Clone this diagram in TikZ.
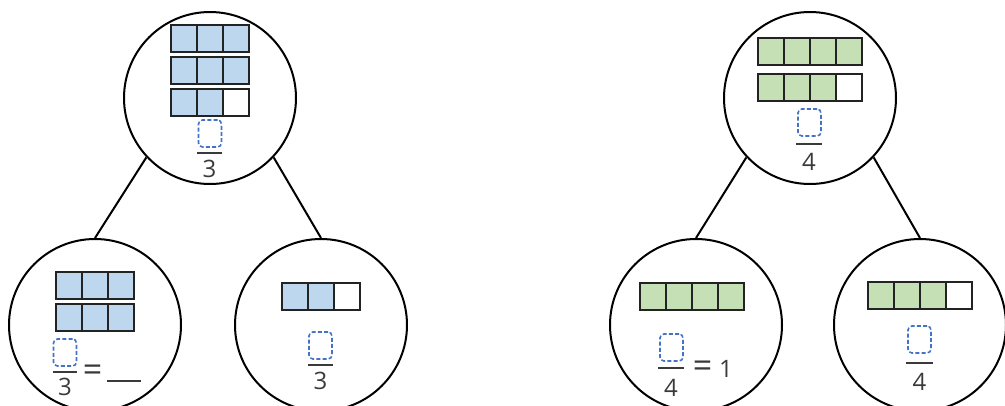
\documentclass[tikz,border=0pt]{standalone}
\usepackage{fontspec}
\setmainfont{Open Sans}
\definecolor{cellblue}{HTML}{BDD7EE}
\definecolor{cellgreen}{HTML}{C5E0B4}
\definecolor{dashblue}{HTML}{4472C4}
\definecolor{ink}{HTML}{3A3A3A}
\tikzset{
  bubble/.style={circle, draw=black, line width=2pt, minimum size=172pt, inner sep=0pt},
  link/.style={draw=black, line width=2pt},
  cell/.style={draw=ink!60!black, line width=2pt},
  answerbox/.style={draw=dashblue, dash pattern=on 4pt off 2.2pt, line width=1.6pt, rounded corners=4pt, minimum width=23pt, minimum height=27pt, inner sep=0pt},
  fracline/.style={draw=ink, line width=1.8pt},
  digit/.style={text=ink, font=\fontsize{24}{26}\selectfont, inner sep=0pt},
  eqsign/.style={text=ink, font=\fontsize{34}{36}\selectfont, inner sep=0pt},
}
\newcommand\cellbar[5]{% x, y, cells, filled, colour
  \foreach \i in {1,...,#3}{
    \ifnum\i>#4\relax\def\fc{white}\else\def\fc{#5}\fi
    \draw[cell, fill=\fc] ({#1+(\i-1)*26},#2) rectangle ++(26,27);
  }
}
\begin{document}
\begin{tikzpicture}[x=1pt,y=-1pt]
\useasboundingbox (0,0) rectangle (1005,405);
\clip (0,0) rectangle (1005,405);
% circles
\node[bubble] (tl) at (210,98) {};
\node[bubble] (bl) at (95,325) {};
\node[bubble] (bm) at (321,325) {};
\node[bubble] (tr) at (810,98) {};
\node[bubble] (brl) at (696,325) {};
\node[bubble] (brr) at (920,325) {};
% connectors
\draw[link] (tl.-137) -- (bl.north);
\draw[link] (tl.-43) -- (bm.north);
\draw[link] (tr.-137) -- (brl.north);
\draw[link] (tr.-43) -- (brr.north);
% bars
\cellbar{171}{25}{3}{3}{cellblue}
\cellbar{171}{57}{3}{3}{cellblue}
\cellbar{171}{89}{3}{2}{cellblue}
\cellbar{56}{272}{3}{3}{cellblue}
\cellbar{56}{304}{3}{3}{cellblue}
\cellbar{282}{283}{3}{2}{cellblue}
\cellbar{758}{38}{4}{4}{cellgreen}
\cellbar{758}{74}{4}{3}{cellgreen}
\cellbar{640}{283}{4}{4}{cellgreen}
\cellbar{868}{282}{4}{3}{cellgreen}
% fractions
\node[answerbox] (q1) at (210,133.5) {};
\draw[fracline] (197,153) -- (222,153);
\node[digit] (d1) at (209.5,168.5) {3};

\node[answerbox] (q2) at (65,352.5) {};
\draw[fracline] (53,372) -- (77,372);
\node[digit] (d2) at (65,387) {3};
\node[eqsign] (e2) at (92.5,373) {=};
\draw[fracline, line width=2pt] (107,381) -- (141,381);

\node[answerbox] (q3) at (320.5,345.5) {};
\draw[fracline] (308,365) -- (333,365);
\node[digit] (d3) at (320.5,380.5) {3};

\node[answerbox] (q4) at (809.5,122.5) {};
\draw[fracline] (796,144) -- (822,144);
\node[digit] (d4) at (809,161.5) {4};

\node[answerbox] (q5) at (671.5,347.5) {};
\draw[fracline] (658,368) -- (684,368);
\node[digit] (d5) at (671,388) {4};
\node[eqsign] (e5) at (702.5,369) {=};
\node[digit] (n5) at (726,369) {1};

\node[answerbox] (q6) at (919.5,339.5) {};
\draw[fracline] (906,363) -- (933,363);
\node[digit] (d6) at (919.5,381.5) {4};
\end{tikzpicture}
\end{document}
